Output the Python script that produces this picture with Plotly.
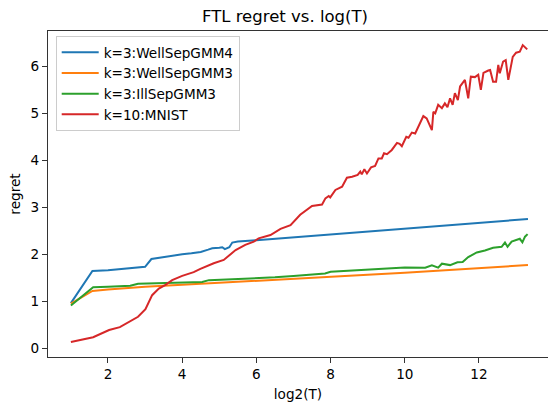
import plotly.graph_objects as go

# ---- data (x = log2(T), y = regret) ----
blue_x = [1.0, 1.58, 2.0, 2.32, 2.58, 2.81, 3.0, 3.17, 3.32, 3.58, 3.81, 4.0, 4.25, 4.5, 4.7,
          4.81, 5.0, 5.08, 5.15, 5.27, 5.35, 5.5, 6.0, 7.0, 8.0, 9.0, 10.0, 11.0, 12.0, 13.32]
blue_y = [0.96, 1.645, 1.66, 1.68, 1.70, 1.72, 1.735, 1.90, 1.92, 1.95, 1.97, 2.0, 2.02, 2.05, 2.10,
          2.13, 2.14, 2.15, 2.11, 2.15, 2.25, 2.27, 2.30, 2.36, 2.42, 2.48, 2.54, 2.60, 2.66, 2.75]

orange_x = [1.0, 1.58, 2.0, 2.32, 2.58, 3.0, 4.0, 5.0, 6.0, 7.0, 8.0, 9.0, 10.0, 11.0, 12.0, 13.32]
orange_y = [0.95, 1.22, 1.25, 1.27, 1.29, 1.31, 1.35, 1.39, 1.43, 1.475, 1.52, 1.565, 1.61, 1.655, 1.70, 1.77]

green_x = [1.0, 1.6, 2.0, 2.32, 2.6, 2.81, 3.0, 3.5, 4.0, 4.54, 4.72, 5.0, 5.5, 6.0, 6.5, 7.0, 7.5,
           7.85, 8.0, 8.5, 9.0, 9.5, 10.0, 10.55, 10.73, 10.9, 11.0, 11.22, 11.42, 11.56, 11.71,
           11.94, 12.16, 12.38, 12.61, 12.70, 12.77, 12.88, 13.1, 13.17, 13.24, 13.31]
green_y = [0.91, 1.30, 1.31, 1.32, 1.33, 1.375, 1.38, 1.39, 1.40, 1.41, 1.45, 1.46, 1.47, 1.49, 1.51,
           1.54, 1.57, 1.59, 1.63, 1.65, 1.68, 1.70, 1.72, 1.715, 1.765, 1.715, 1.80, 1.77, 1.83, 1.835,
           1.94, 2.04, 2.08, 2.14, 2.16, 2.25, 2.16, 2.27, 2.33, 2.255, 2.375, 2.43]

red_x = [1.0, 1.6, 2.03, 2.32, 2.81, 3.01, 3.19, 3.37, 3.55, 3.73, 4.0, 4.31, 4.49, 4.85, 5.12, 5.44,
         5.70, 5.93, 6.06, 6.38, 6.65, 6.92, 7.18, 7.50, 7.77, 7.86, 7.95, 7.99, 8.13, 8.31, 8.44, 8.58,
         8.73, 8.80, 8.84, 8.91, 8.98, 9.09, 9.20, 9.29, 9.38, 9.44, 9.52, 9.65, 9.79, 9.86, 9.92, 10.04,
         10.10, 10.19, 10.28, 10.37, 10.50, 10.59, 10.73, 10.77, 10.82, 10.90, 11.0, 11.08, 11.15, 11.22,
         11.29, 11.35, 11.43, 11.49, 11.56, 11.62, 11.71, 11.78, 11.89, 11.98, 12.05, 12.12, 12.25, 12.30,
         12.38, 12.46, 12.52, 12.56, 12.65, 12.72, 12.79, 12.91, 13.00, 13.10, 13.18, 13.24, 13.30]
red_y = [0.134, 0.235, 0.39, 0.45, 0.67, 0.83, 1.13, 1.27, 1.35, 1.45, 1.54, 1.62, 1.69, 1.81, 1.88, 2.09,
         2.20, 2.27, 2.34, 2.41, 2.54, 2.62, 2.84, 3.03, 3.06, 3.19, 3.24, 3.21, 3.37, 3.44, 3.63, 3.65,
         3.69, 3.76, 3.70, 3.81, 3.72, 3.85, 3.88, 4.04, 4.04, 4.15, 4.13, 4.22, 4.37, 4.35, 4.30, 4.50,
         4.48, 4.59, 4.57, 4.72, 4.94, 4.89, 4.64, 5.03, 5.0, 5.18, 5.11, 5.21, 5.13, 5.32,
         5.18, 5.43, 5.28, 5.57, 5.64, 5.71, 5.32, 5.78, 5.77, 5.82, 5.50, 5.86, 5.91, 5.92,
         5.67, 5.67, 6.03, 5.85, 6.10, 6.13, 5.71, 6.20, 6.29, 6.31, 6.45, 6.40, 6.36]

series_names = ["k=3:WellSepGMM4", "k=3:WellSepGMM3", "k=3:IllSepGMM3", "k=10:MNIST"]
series_colors = ["#1f77b4", "#ff7f0e", "#2ca02c", "#d62728"]
x_ticks = [2, 4, 6, 8, 10, 12]
y_ticks = [0, 1, 2, 3, 4, 5, 6]

FONT = "DejaVu Sans"
FS = 13.6
W, H = 548, 402
ML, MR, MT, MB = 48, 0, 31, 45

fig = go.Figure()
for xs, ys, name, color in zip([blue_x, orange_x, green_x, red_x],
                               [blue_y, orange_y, green_y, red_y],
                               series_names, series_colors):
    fig.add_trace(go.Scatter(x=xs, y=ys, mode="lines", name=name,
                             line=dict(color=color, width=2)))

axis_common = dict(showgrid=False, zeroline=False, showline=True, linecolor="#333333",
                   linewidth=1, mirror=True, ticks="outside", ticklen=5, tickwidth=1,
                   tickcolor="#333333", tickfont=dict(family=FONT, size=FS, color="#000000"))

fig.update_layout(
    width=W, height=H,
    margin=dict(l=ML, r=MR, t=MT, b=MB, autoexpand=False),
    paper_bgcolor="white", plot_bgcolor="white",
    font=dict(family=FONT, size=FS, color="#000000"),
    title=dict(text="FTL regret vs. log(T)", x=285 / W, xanchor="center",
               y=1 - 16 / H, yanchor="middle", font=dict(family=FONT, size=16.5)),
    xaxis=dict(range=[0.383, 13.86], tickvals=x_ticks,
               title=dict(text="log2(T)", standoff=12, font=dict(size=FS)), **axis_common),
    yaxis=dict(range=[-0.185, 6.751], tickvals=y_ticks,
               title=dict(text="regret", standoff=6, font=dict(size=FS)), **axis_common),
    legend=dict(x=0.0154, y=0.9847, xanchor="left", yanchor="top",
                bgcolor="rgba(255,255,255,0.8)", bordercolor="#cccccc", borderwidth=1,
                font=dict(family=FONT, size=FS), tracegroupgap=0, itemwidth=37),
    showlegend=True,
)

fig.write_html("out.html", config={"displayModeBar": False},
               post_script="document.body.style.margin='0';document.body.style.overflow='hidden';")
